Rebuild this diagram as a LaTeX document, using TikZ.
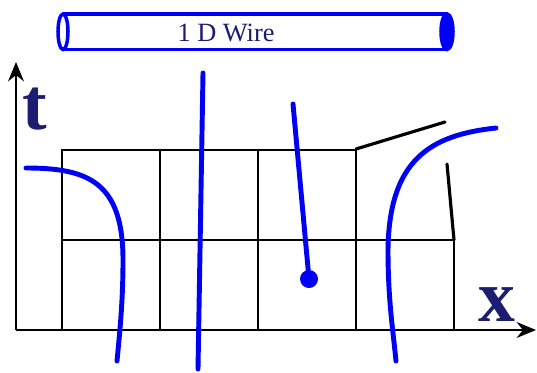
\documentclass[tikz,border=0pt]{standalone}
\usepackage{fontspec}
\setmainfont{Liberation Serif}
\usetikzlibrary{arrows.meta}
\definecolor{wireblue}{RGB}{0,0,245}
\definecolor{labelnavy}{RGB}{28,28,112}
\begin{document}
\begin{tikzpicture}[x=0.02cm,y=-0.02cm,
  worldline/.style={wireblue,line width=2.8pt,line cap=round},
  cell/.style={black,line width=1.3pt},
  edge/.style={black,line width=1.8pt,line cap=round},
  axis/.style={black,line width=1.3pt,-{Stealth[length=11pt,width=9pt]}},
  axlabel/.style={text=labelnavy,font=\fontsize{42}{42}\selectfont\bfseries,inner sep=0pt}]
\useasboundingbox (0,0) rectangle (537,372);
\draw[wireblue,line width=2pt] (63,14) -- (447,14);
\draw[wireblue,line width=2pt] (63,49.5) -- (447,49.5);
\draw[wireblue,line width=2pt] (63,31.75) ellipse [x radius=5,y radius=17.75];
\draw[wireblue,fill=wireblue,line width=2pt] (447,31.75) ellipse [x radius=6,y radius=17.75];
\node[text=labelnavy,font=\fontsize{15}{15}\selectfont] (wirelabel) at (226,33) {1 D Wire};
\coordinate (origin) at (16,330);
\coordinate (xend) at (536,330);
\coordinate (tend) at (16,62);
\draw[cell] (62,150) rectangle (356,330);
\draw[cell] (160,150) -- (160,330);
\draw[cell] (258,150) -- (258,330);
\draw[cell] (62,240) -- (455,240);
\draw[edge] (356,149) -- (445,122);
\draw[edge] (447,164) -- (454,240);
\draw[cell] (454,240) -- (454,330);
\draw[axis] (origin) -- (xend);
\draw[axis] (origin) -- (tend);
\node[axlabel] (tlabel) at (35,109) {t};
\node[axlabel] (xlabel) at (497,305) {x};
\draw[worldline] (26,168) .. controls (88,168) and (123,182) .. (123,260) .. controls (123,300) and (120,330) .. (117,361);
\draw[worldline] (203,73) -- (198,369);
\draw[worldline] (293,104) -- (309,279);
\fill[wireblue] (309,279) circle [radius=9];
\draw[worldline] (496,128) .. controls (430,135) and (389,160) .. (388,250) .. controls (388,300) and (393,330) .. (396,361);
\end{tikzpicture}
\end{document}
